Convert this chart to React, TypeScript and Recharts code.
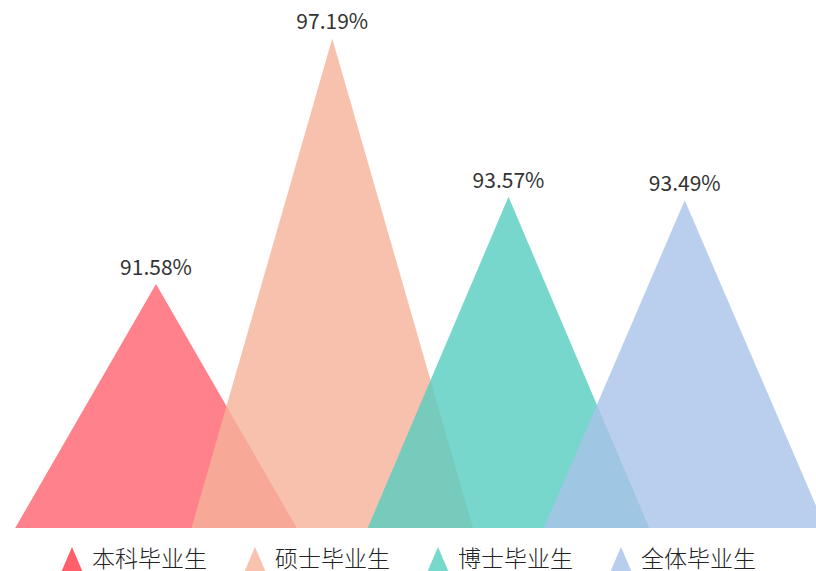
import { Bar, BarChart, Cell, LabelList, Legend, XAxis, YAxis } from "recharts"

const categories = ["本科毕业生", "硕士毕业生", "博士毕业生", "全体毕业生"]
const rates = [91.58, 97.19, 93.57, 93.49]
const fillColors = ["#FF626E", "#F6B29A", "#56CDC0", "#A9C2E8"]
const legendColors = ["#FF5E6B", "#F8C2AE", "#77D8CC", "#B9CDEE"]

const data = categories.map((name, i) => ({ name, rate: rates[i] }))

const font = '"Noto Sans CJK SC", "Noto Sans", sans-serif'

function Triangle(props: any) {
  const { x, y, width, height, fill } = props
  const cx = x + width / 2
  const hw = width * 0.8
  return (
    <path
      d={`M${cx - hw},${y + height} L${cx},${y} L${cx + hw},${y + height} Z`}
      fill={fill}
      fillOpacity={0.8}
    />
  )
}

function TriangleLegend() {
  return (
    <div
      style={{
        height: 43,
        display: "flex",
        justifyContent: "center",
        alignItems: "flex-end",
        gap: 36,
        fontFamily: font,
        fontSize: 23,
        fontWeight: 300,
        color: "#222",
      }}
    >
      {categories.map((name, i) => (
        <div key={name} style={{ display: "flex", alignItems: "flex-start", gap: 8, height: 26 }}>
          <svg width={24} height={26} style={{ marginTop: 2 }}>
            <path d="M0,28 L12,0 L24,28 Z" fill={legendColors[i]} />
          </svg>
          <span style={{ lineHeight: "24px" }}>{name}</span>
        </div>
      ))}
    </div>
  )
}

export default function App() {
  return (
    <div style={{ position: "absolute", left: 0, top: 0, width: 816, height: 571, background: "#fff", overflow: "hidden" }}>
      <BarChart
        width={816}
        height={571}
        data={data}
        margin={{ top: 3, right: 43, bottom: 0, left: 68 }}
        barCategoryGap="0%"
      >
        <XAxis dataKey="name" hide />
        <YAxis hide domain={[86, 98]} />
        <Legend
          verticalAlign="bottom"
          content={<TriangleLegend />}
          wrapperStyle={{ left: 0, width: 816, bottom: 0 }}
        />
        <Bar dataKey="rate" shape={<Triangle />} isAnimationActive={false}>
          {data.map((d, i) => (
            <Cell key={d.name} fill={fillColors[i]} />
          ))}
          <LabelList
            dataKey="rate"
            position="top"
            offset={9}
            formatter={(v: any) => `${v}%`}
            style={{ fontFamily: font, fontSize: 21, fill: "#333" }}
          />
        </Bar>
      </BarChart>
    </div>
  )
}
